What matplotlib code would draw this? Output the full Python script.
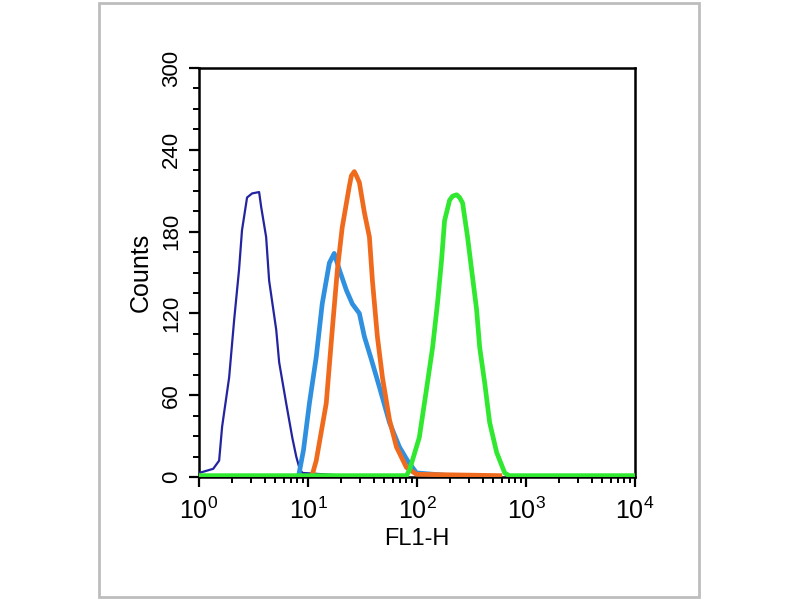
import matplotlib
matplotlib.use("Agg")
import matplotlib.pyplot as plt
from matplotlib.patches import Rectangle
from matplotlib.ticker import LogLocator, NullFormatter, MultipleLocator

plt.rcParams['font.family'] = ['Liberation Sans', 'DejaVu Sans']
plt.rcParams['mathtext.fontset'] = 'custom'
plt.rcParams['mathtext.rm'] = 'Liberation Sans'
plt.rcParams['mathtext.it'] = 'Liberation Sans'

# ---- data (FL1-H value, counts) ----
navy_x = [1.0, 1.11, 1.35, 1.53, 1.63, 1.89, 2.10, 2.33, 2.48, 2.76, 3.07, 3.56, 3.72, 4.13, 4.40,
          5.11, 5.44, 6.31, 7.17, 7.80, 8.31, 8.85, 21.5]
navy_y = [3, 4, 6, 12, 37, 73, 115, 152, 181, 205, 208, 209, 198, 176, 144,
          108, 84, 54, 29, 15, 7, 3, 1]

blue_x = [8.3, 9.1, 10.3, 11.9, 13.5, 15.7, 17.4, 19.4, 22.5, 25.5, 29.6, 32.9, 38.2,
          45.2, 55.9, 69.0, 81.8, 98.9, 200.0]
blue_y = [3, 20, 54, 88, 127, 157, 164, 152, 137, 127, 120, 103, 86,
          66, 40, 22, 12, 3, 1]

orange_x = [10.8, 11.9, 14.7, 16.7, 18.6, 20.6, 23.9, 25.0, 26.6, 27.8, 29.6, 32.9, 36.6, 39.0, 43.3,
            48.2, 55.9, 64.8, 80.0, 98.9, 575.0]
orange_y = [0, 12, 54, 108, 152, 183, 213, 221, 224, 221, 216, 194, 176, 144, 103,
            73, 42, 22, 7, 2, 1]

green_x = [1.0, 80.0, 85.3, 105, 122, 139, 154, 168, 179, 199, 212, 231, 246, 262, 291, 317, 352,
           376, 418, 464, 538, 638, 700, 10000]
green_y = [1, 1, 5, 29, 64, 95, 127, 159, 188, 203, 206, 207, 205, 201, 176, 152, 123,
           95, 69, 40, 18, 3, 1, 1]

x_ticks = [1, 10, 100, 1000, 10000]
x_labels = [r'$\mathregular{10^{0}}$', r'$\mathregular{10^{1}}$', r'$\mathregular{10^{2}}$',
            r'$\mathregular{10^{3}}$', r'$\mathregular{10^{4}}$']
y_ticks = [0, 60, 120, 180, 240, 300]

fig = plt.figure(figsize=(8, 6), dpi=100)
fig.patch.set_facecolor('white')
fig.patches.append(Rectangle((99 / 800, 3 / 600), 600 / 800, 594 / 600, transform=fig.transFigure,
                             fill=False, edgecolor='#bdbdbd', linewidth=2))

ax = fig.add_axes([199 / 800, 1 - 477 / 600, 436 / 800, 409 / 600])
ax.plot(navy_x, navy_y, color='#2424a0', lw=1.6, zorder=3)
ax.plot(blue_x, blue_y, color='#3090e0', lw=3.4, zorder=4)
ax.plot(orange_x, orange_y, color='#f06a1e', lw=3.4, zorder=5)
ax.plot(green_x, green_y, color='#30e830', lw=3.4, zorder=6)

ax.set_xscale('log')
ax.set_xlim(1, 10000)
ax.set_ylim(0, 300)
ax.set_xticks(x_ticks)
ax.set_xticklabels(x_labels, fontsize=18)
ax.xaxis.set_minor_locator(LogLocator(base=10, subs=range(2, 10)))
ax.xaxis.set_minor_formatter(NullFormatter())
ax.set_yticks(y_ticks)
ax.set_yticklabels([str(v) for v in y_ticks], fontsize=16, rotation=90, va='center')
ax.yaxis.set_minor_locator(MultipleLocator(15))

ax.tick_params(axis='both', which='major', direction='out', length=7, width=1.6, color='black', pad=5)
ax.tick_params(axis='x', which='major', pad=8)
ax.tick_params(axis='both', which='minor', direction='out', length=4, width=1.4, color='black')
for s in ax.spines.values():
    s.set_linewidth(1.8)
    s.set_color('black')

ax.set_xlabel('FL1-H', fontsize=17, labelpad=3)
ax.set_ylabel('Counts', fontsize=18, labelpad=6)

fig.savefig('out.png', dpi=100)
